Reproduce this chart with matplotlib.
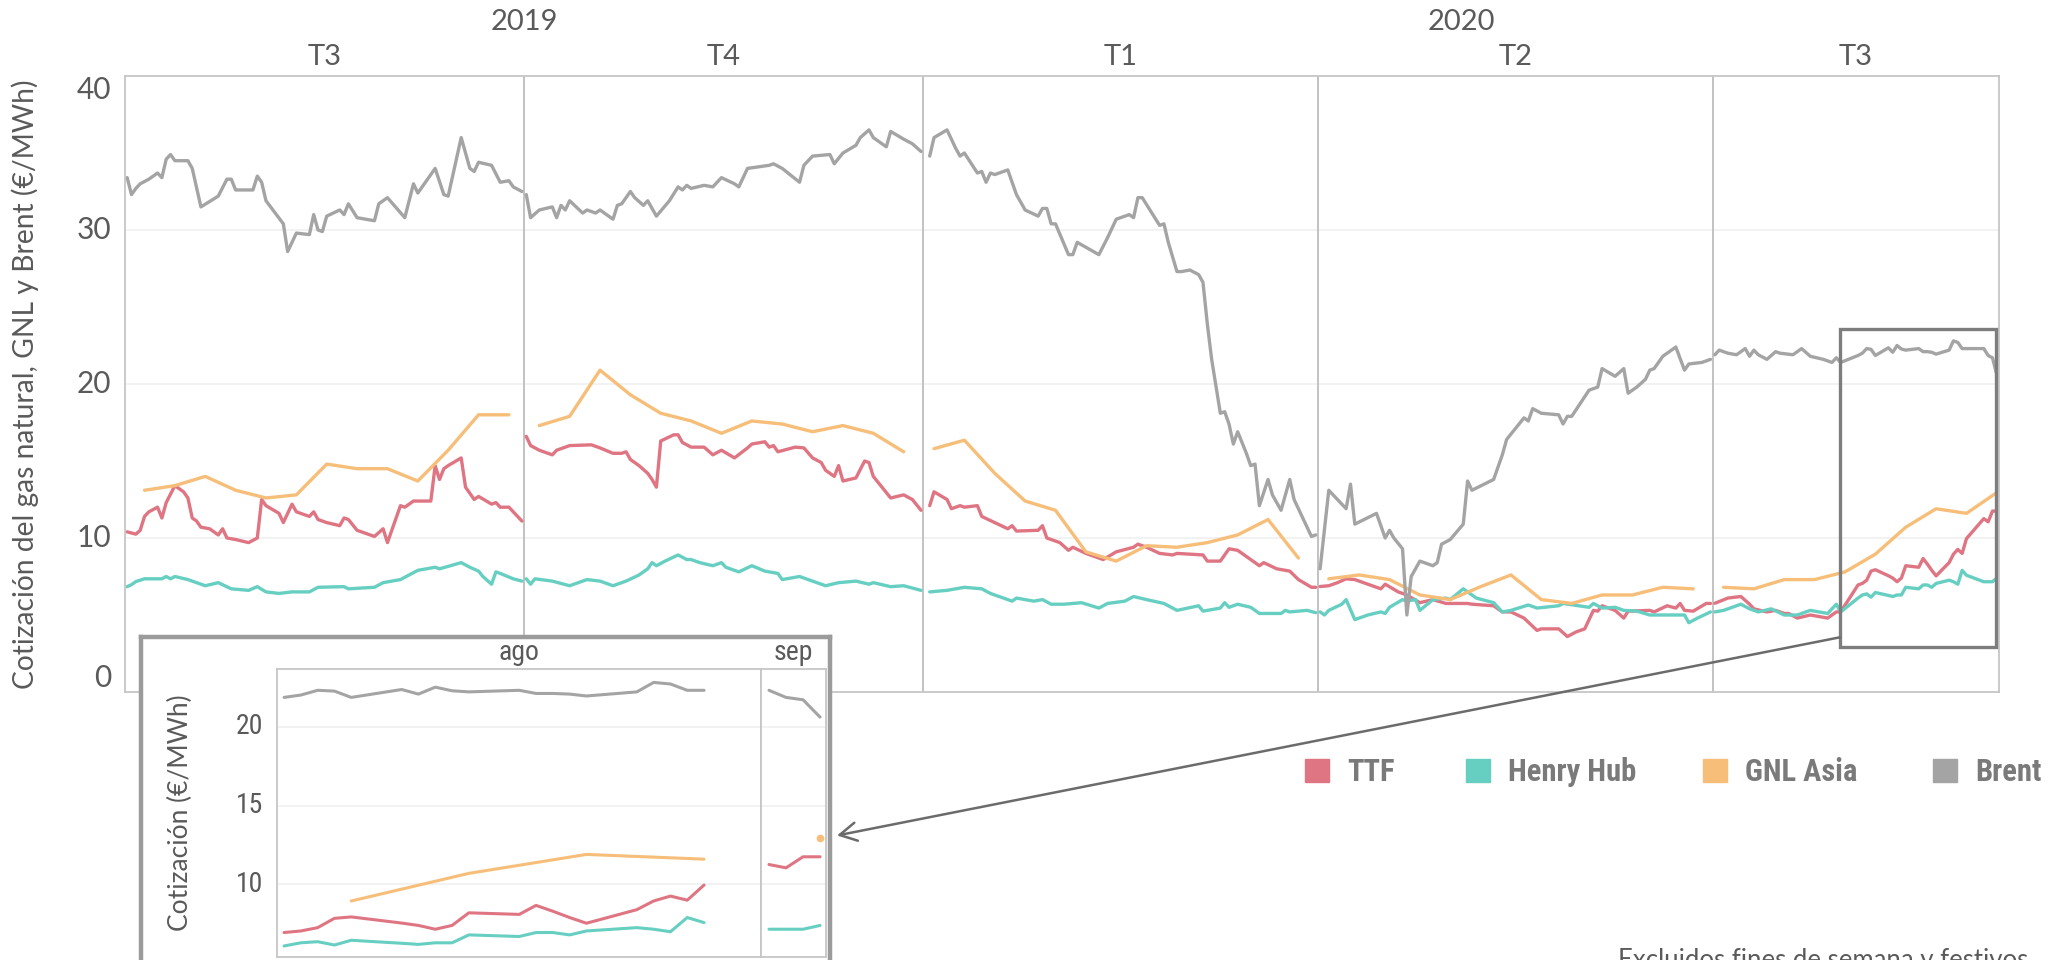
import numpy as np
import matplotlib
matplotlib.use("Agg")
import matplotlib.pyplot as plt
from matplotlib import font_manager
from matplotlib.patches import Rectangle, ConnectionPatch
from matplotlib.transforms import blended_transform_factory

# ---- data: days counted from 2019-07-01, values in EUR/MWh ----
base = np.datetime64("2019-07-01")

brent_d = [0, 1, 2, 3, 5, 7, 8, 9, 10, 11, 14, 15, 17, 21, 23, 24, 25, 29, 30, 31, 32, 36, 37, 39, 42,
           43, 44, 45, 46, 49, 50, 51, 53, 57, 58, 60, 64, 66, 67, 71, 73, 74, 77, 79, 80, 81, 84, 86, 88, 89, 91,
           92, 93, 95, 98, 99, 100, 101, 102, 105, 106, 108, 109, 112, 113, 114, 116, 117, 119, 120, 122,
           125, 127, 128, 129, 130, 133, 135, 137, 140, 141, 143, 148, 149, 151, 155, 156, 158, 162, 163, 165,
           168, 169, 171, 172, 175, 176, 179, 181, 183,
           185, 186, 189, 191, 192, 193, 196, 197, 198, 199, 200, 203, 205, 207, 210, 211, 212, 213, 214, 217,
           218, 219, 224, 226, 228, 231, 232, 233, 234, 238, 239, 240, 242, 243, 245, 247, 248, 249, 250, 252,
           253, 254, 255, 256, 258, 259, 260, 261, 263, 264, 266, 268, 269, 271, 273, 274,
           275, 277, 281, 282, 283, 288, 290, 291, 292, 294, 295, 296, 298, 301, 302, 303, 305, 308, 309, 310,
           315, 317, 318, 322, 323, 324, 326, 330, 331, 332, 333, 337, 339, 340, 343, 345, 346, 348, 350, 351,
           352, 354, 357, 359, 360, 363, 365,
           366, 367, 369, 371, 373, 374, 375, 376, 378, 380, 381, 384, 386, 388, 391, 393, 394, 395,
           399, 400, 401, 402, 403, 406, 407, 408, 409, 410, 413, 414, 415, 416, 417, 420, 421, 422, 423, 424,
           428, 429, 430, 431]
brent_v = [33.4, 32.3, 32.7, 33.0, 33.3, 33.7, 33.4, 34.6, 34.9, 34.5, 34.5, 34.0, 31.5, 32.2, 33.3, 33.3,
           32.6, 32.6, 33.5, 33.1, 31.9, 30.4, 28.6, 29.8, 29.7, 31.0, 30.0, 29.9, 30.9, 31.3, 31.0, 31.7, 30.8,
           30.6, 31.7, 32.1, 30.8, 33.0, 32.4, 34.0, 32.3, 32.2, 36.0, 34.0, 33.8, 34.4, 34.2, 33.1, 33.2, 32.8, 32.5,
           32.3, 30.8, 31.3, 31.5, 30.8, 31.6, 31.3, 31.9, 31.1, 31.3, 31.1, 31.3, 30.7, 31.6, 31.7, 32.5, 32.1,
           31.6, 31.9, 30.9, 31.9, 32.8, 32.6, 32.9, 32.7, 32.9, 32.8, 33.4, 33.0, 32.8, 34.0, 34.2, 34.3, 34.0,
           33.1, 34.2, 34.8, 34.9, 34.3, 35.0, 35.5, 36.0, 36.5, 36.0, 35.4, 36.4, 35.9, 35.6, 35.1,
           34.8, 36.0, 36.5, 35.3, 34.8, 35.0, 33.7, 33.8, 33.1, 33.7, 33.6, 33.9, 32.3, 31.3, 30.9, 31.4, 31.4,
           30.4, 30.4, 28.4, 28.4, 29.2, 28.4, 29.5, 30.7, 31.0, 30.8, 32.1, 32.1, 30.3, 30.4, 29.2, 27.3, 27.3,
           27.4, 27.1, 26.6, 23.9, 21.6, 18.1, 18.2, 17.4, 16.1, 16.9, 15.5, 14.7, 14.8, 12.1, 13.8, 12.8, 11.8,
           13.8, 12.5, 11.3, 10.1, 10.2,
           8.0, 13.1, 11.9, 13.5, 10.9, 11.6, 10.0, 10.5, 10.0, 9.3, 5.0, 7.5, 8.5, 8.2, 8.4, 9.6, 9.9, 10.9,
           13.7, 13.1, 13.8, 15.4, 16.4, 17.8, 17.6, 18.4, 18.1, 18.0, 17.4, 17.9, 17.9, 19.6, 19.8, 21.0, 20.5,
           21.0, 19.4, 19.8, 20.3, 20.9, 21.0, 21.8, 22.4, 20.9, 21.3, 21.4, 21.6,
           21.9, 22.2, 22.0, 21.9, 22.3, 21.8, 22.2, 21.9, 21.6, 22.1, 22.0, 21.9, 22.3, 21.8, 21.6, 21.4, 21.7, 21.4,
           21.85, 22.0, 22.3, 22.25, 21.85, 22.35, 22.06, 22.5, 22.27, 22.2, 22.3, 22.1, 22.1, 22.06, 21.94,
           22.2, 22.8, 22.7, 22.3, 22.3, 22.3, 21.85, 21.7, 20.6]

ttf_d = [0, 2, 3, 4, 5, 7, 8, 9, 11, 13, 14, 15, 16, 17, 19, 21, 22, 23, 25, 28, 30, 31, 32, 35, 36, 38, 39,
         42, 43, 44, 46, 49, 50, 51, 53, 57, 59, 60, 63, 64, 66, 70, 71, 72, 73, 74, 77, 78, 80, 81, 84, 85, 86, 88, 91,
         92, 93, 95, 98, 99, 102, 107, 109, 112, 114, 115, 116, 118, 120, 121, 122, 123, 126, 127, 128, 130, 133,
         135, 137, 140, 143, 144, 147, 148, 149, 150, 154, 156, 158, 160, 161, 163, 164, 165, 168, 170, 171, 172,
         176, 179, 181, 183,
         185, 186, 189, 190, 192, 193, 196, 197, 200, 203, 204, 205, 210, 211, 212, 215, 217, 218, 221, 225, 228,
         232, 233, 235, 238, 241, 242, 248, 249, 252, 254, 256, 259, 261, 262, 265, 268, 270, 273, 274,
         275, 277, 279, 281, 283, 286, 289, 290, 293, 295, 298, 301, 304, 309, 310, 315, 317, 319, 322, 325, 326,
         330, 332, 334, 336, 338, 339, 340, 343, 345, 346, 351, 352, 355, 357, 358, 359, 361, 364, 365,
         366, 369, 372, 374, 375, 378, 380, 382, 383, 385, 388, 390, 392, 394, 395,
         399, 400, 401, 402, 403, 406, 407, 408, 409, 410, 413, 414, 415, 416, 417, 420, 421, 422, 423, 424,
         428, 429, 430, 431]
ttf_v = [10.4, 10.25, 10.5, 11.4, 11.7, 12.0, 11.3, 12.3, 13.4, 13.0, 12.6, 11.3, 11.1, 10.7, 10.6, 10.2, 10.6,
         10.0, 9.9, 9.7, 10.0, 12.5, 12.1, 11.6, 11.0, 12.2, 11.7, 11.4, 11.7, 11.2, 11.0, 10.8, 11.3, 11.2, 10.5,
         10.1, 10.6, 9.7, 12.1, 12.0, 12.4, 12.4, 14.7, 13.8, 14.5, 14.7, 15.2, 13.3, 12.5, 12.7, 12.2, 12.3, 12.0,
         12.0, 11.1,
         16.6, 16.0, 15.7, 15.4, 15.7, 16.0, 16.05, 15.85, 15.5, 15.5, 15.6, 15.1, 14.7, 14.2, 13.8, 13.3, 16.3,
         16.7, 16.7, 16.2, 15.9, 15.9, 15.4, 15.7, 15.2, 15.85, 16.1, 16.25, 15.9, 16.0, 15.6, 15.9, 15.85, 15.2,
         14.9, 14.4, 14.0, 14.7, 13.7, 13.9, 15.0, 14.9, 14.0, 12.6, 12.8, 12.5, 11.8,
         12.1, 13.0, 12.5, 11.9, 12.1, 12.0, 12.1, 11.4, 11.0, 10.6, 10.8, 10.45, 10.5, 10.8, 10.0, 9.7, 9.2, 9.4,
         9.0, 8.6, 9.1, 9.4, 9.6, 9.4, 9.0, 8.9, 9.0, 8.9, 8.5, 8.5, 9.3, 9.2, 8.6, 8.2, 8.4, 8.0, 7.85, 7.3, 6.8, 6.8,
         6.85, 6.9, 7.1, 7.35, 7.3, 7.0, 6.7, 7.0, 6.5, 6.3, 5.8, 6.0, 5.75, 5.75, 5.7, 5.6, 5.2, 5.2, 4.8, 4.0,
         4.1, 4.1, 3.6, 3.9, 4.1, 5.3, 5.25, 5.6, 5.3, 4.8, 5.25, 5.3, 5.2, 5.6, 5.45, 5.75, 5.3, 5.25, 5.75, 5.75,
         5.76, 6.1, 6.2, 5.7, 5.4, 5.2, 5.3, 5.1, 5.1, 4.8, 5.0, 4.9, 4.8, 5.2, 5.2,
         6.95, 7.05, 7.26, 7.85, 7.94, 7.55, 7.4, 7.16, 7.4, 8.2, 8.1, 8.67, 8.3, 7.9, 7.54, 8.4, 8.95, 9.26,
         9.0, 9.96, 11.26, 11.05, 11.75, 11.75]

hh_d = [0, 1, 2, 4, 8, 9, 10, 11, 14, 18, 21, 24, 28, 30, 32, 35, 38, 42, 44, 50, 51, 57, 59, 63, 65, 67, 71,
        72, 77, 79, 81, 82, 84, 85, 86, 89, 91,
        92, 93, 94, 98, 102, 106, 109, 112, 115, 118, 120, 121, 122, 124, 127, 129, 130, 132, 135, 137, 138,
        141, 144, 147, 150, 151, 155, 158, 161, 164, 168, 171, 172, 176, 179, 183,
        185, 189, 193, 197, 199, 200, 204, 205, 209, 211, 213, 216, 220, 224, 226, 230, 232, 235, 239, 242,
        247, 248, 252, 253, 254, 256, 259, 261, 266, 267, 268, 272, 274,
        275, 276, 277, 280, 281, 283, 286, 289, 290, 291, 294, 295, 297, 298, 301, 304, 305, 308, 311, 315,
        317, 319, 323, 325, 330, 331, 337, 338, 340, 343, 345, 348, 351, 357, 359, 360, 362, 365,
        366, 368, 372, 374, 376, 379, 382, 385, 388, 390, 392, 394, 395,
        399, 400, 401, 402, 403, 406, 407, 408, 409, 410, 413, 414, 415, 416, 417, 420, 421, 422, 423, 424,
        428, 429, 430, 431]
hh_v = [6.84, 6.97, 7.17, 7.35, 7.35, 7.5, 7.35, 7.5, 7.3, 6.9, 7.1, 6.7, 6.6, 6.84, 6.5, 6.4, 6.5, 6.5, 6.8,
        6.84, 6.7, 6.8, 7.1, 7.3, 7.6, 7.9, 8.1, 8.0, 8.4, 8.1, 7.85, 7.5, 7.0, 7.8, 7.7, 7.35, 7.2,
        7.35, 7.0, 7.35, 7.2, 6.9, 7.3, 7.2, 6.9, 7.2, 7.6, 8.0, 8.4, 8.2, 8.5, 8.9, 8.6, 8.6, 8.4, 8.2, 8.4,
        8.1, 7.8, 8.2, 7.85, 7.7, 7.3, 7.5, 7.2, 6.9, 7.1, 7.2, 7.0, 7.1, 6.84, 6.9, 6.6,
        6.5, 6.6, 6.8, 6.7, 6.4, 6.3, 5.9, 6.1, 5.9, 6.0, 5.7, 5.7, 5.8, 5.45, 5.75, 5.9, 6.2, 6.0, 5.75, 5.3,
        5.6, 5.25, 5.45, 5.8, 5.5, 5.7, 5.5, 5.1, 5.1, 5.3, 5.2, 5.3, 5.15,
        5.2, 5.0, 5.3, 5.7, 6.0, 4.7, 5.0, 5.2, 5.1, 5.5, 6.0, 5.9, 6.0, 5.3, 6.0, 6.1, 6.0, 6.7, 6.1, 5.8,
        5.2, 5.3, 5.65, 5.45, 5.6, 5.75, 5.5, 5.75, 5.45, 5.5, 5.3, 5.25, 5.0, 5.0, 5.0, 4.5, 4.8, 5.2,
        5.2, 5.3, 5.7, 5.4, 5.2, 5.4, 5.0, 5.0, 5.3, 5.2, 5.1, 5.7, 5.2,
        6.1, 6.3, 6.37, 6.16, 6.46, 6.27, 6.2, 6.3, 6.3, 6.8, 6.7, 6.95, 6.95, 6.8, 7.05, 7.26, 7.16, 7.0,
        7.9, 7.58, 7.16, 7.16, 7.16, 7.4]

# GNL Asia: weekly quotes (Fridays) from 2019-07-05 to 2020-09-04
gnl_dates = np.arange(np.datetime64("2019-07-05"), np.datetime64("2020-09-05"), 7)
gnl_v = [13.1, 13.4, 14.0, 13.1, 12.6, 12.8, 14.8, 14.5, 14.5, 13.7, 15.7, 18.0, 18.0,
         17.3, 17.9, 20.9, 19.3, 18.1, 17.6, 16.8, 17.6, 17.4, 16.9, 17.3, 16.8, 15.6,
         15.8, 16.35, 14.2, 12.4, 11.8, 9.1, 8.5, 9.5, 9.4, 9.7, 10.2, 11.2, 8.7,
         7.35, 7.6, 7.3, 6.3, 6.0, 6.84, 7.6, 6.0, 5.75, 6.3, 6.3, 6.8, 6.7,
         6.8, 6.7, 7.3, 7.3, 7.8, 8.95, 10.7, 11.9, 11.6, 12.95]
gnl_d = list((gnl_dates - base).astype(int))

quarter_starts = ["2019-07-01", "2019-10-01", "2020-01-01", "2020-04-01", "2020-07-01"]
quarter_labels = ["T3", "T4", "T1", "T2", "T3"]
year_labels = ["2019", "2020"]
month_starts = ["2020-08-01", "2020-09-01"]
month_labels = ["ago", "sep"]

series_names = ["TTF", "Henry Hub", "GNL Asia", "Brent"]
series_colors = ["#df7582", "#66cfc2", "#f6be78", "#a4a4a4"]
series_data = [(ttf_d, ttf_v), (hh_d, hh_v), (gnl_d, gnl_v), (brent_d, brent_v)]


def pick_font(candidates):
    for name in candidates:
        try:
            font_manager.findfont(name, fallback_to_default=False)
            return name
        except ValueError:
            pass
    return "DejaVu Sans"


main_font = pick_font(["Lato", "Open Sans", "DejaVu Sans"])
narrow_font = pick_font(["Liberation Sans Narrow", "Roboto Condensed", "Liberation Sans"])
plt.rcParams["font.family"] = [main_font, "DejaVu Sans"]

TXT = "#5a5a5a"
W, H = 2061, 960


def draw_series(ax, days, vals, color, starts, lw=2.4):
    days = np.asarray(days, dtype=float)
    vals = np.asarray(vals, dtype=float)
    grp = np.searchsorted(starts, days, side="right") - 1
    for g in np.unique(grp):
        m = grp == g
        if m.sum() == 1:
            ax.plot(days[m], vals[m], "o", color=color, ms=5.5, mec="none")
        else:
            ax.plot(days[m], vals[m], color=color, lw=lw, solid_joinstyle="round",
                    solid_capstyle="round")


q_start = (np.array(quarter_starts, dtype="datetime64[D]") - base).astype(int)
m_start = (np.array(month_starts, dtype="datetime64[D]") - base).astype(int)
x_end = 431.5

fig = plt.figure(figsize=(W / 100, H / 100), dpi=100)

# ---- main chart ----
ax = fig.add_axes([125 / W, (H - 692) / H, (1999 - 125) / W, (692 - 76) / H])
ax.set_xlim(-0.5, x_end)
ax.set_ylim(0, 40)
for s in ax.spines.values():
    s.set_color("#c6c6c6")
    s.set_linewidth(1.3)
ax.set_xticks([])
ax.set_yticks([])
for y in [10, 20, 30]:
    ax.axhline(y, color="#efefef", lw=1.1, zorder=0)
for s in q_start[1:]:
    ax.axvline(s - 0.5, color="#bdbdbd", lw=1.3, zorder=1)

for (d, v), c in zip(series_data, series_colors):
    draw_series(ax, d, v, c, q_start)

ytr = blended_transform_factory(ax.transAxes, ax.transData)
for y in [0, 10, 20, 30, 40]:
    va = "top" if y == 40 else ("bottom" if y == 0 else "center")
    ax.text(-14 / 1874, y, str(y), transform=ytr, ha="right", va=va, fontsize=21.5, color=TXT)
ax.set_ylabel("Cotización del gas natural, GNL y Brent (€/MWh)", fontsize=20.3, color=TXT)
ax.yaxis.set_label_coords(-86 / 1874, 0.5)

xtr = blended_transform_factory(ax.transData, ax.transAxes)
q_edges = list(q_start - 0.5) + [x_end]
for i, lab in enumerate(quarter_labels):
    ax.text((q_edges[i] + q_edges[i + 1]) / 2, 1 + 19 / 616, lab, transform=xtr,
            ha="center", va="center", fontsize=21, color=TXT)
ax.text((q_edges[0] + q_edges[2]) / 2, 1 + 54 / 616, year_labels[0], transform=xtr,
        ha="center", va="center", fontsize=21, color=TXT)
ax.text((q_edges[2] + q_edges[5]) / 2, 1 + 54 / 616, year_labels[1], transform=xtr,
        ha="center", va="center", fontsize=21, color=TXT)

# zoom frame around Aug-Sep 2020
ax.add_patch(Rectangle((394.8, 2.9), 36.0, 20.65, fill=False, ec="#7d7d7d", lw=2.4, zorder=6,
                       clip_on=False))

# ---- inset ----
box = fig.add_axes([141 / W, (H - 1010) / H, (830 - 141) / W, (1010 - 637) / H])
box.set_xticks([])
box.set_yticks([])
for s in box.spines.values():
    s.set_color("#9b9b9b")
    s.set_linewidth(3.2)

ib, it = 957, 669
ax_aug = fig.add_axes([277 / W, (H - ib) / H, (761 - 277) / W, (ib - it) / H])
ax_sep = fig.add_axes([761 / W, (H - ib) / H, (826 - 761) / W, (ib - it) / H])
ax_aug.set_xlim(398.58, 427.39)
ax_sep.set_xlim(427.53, 431.35)
for a, lab in zip([ax_aug, ax_sep], month_labels):
    a.set_ylim(5.4, 23.65)
    a.set_xticks([])
    a.set_yticks([])
    a.set_facecolor("white")
    for s in a.spines.values():
        s.set_color("#c6c6c6")
        s.set_linewidth(1.3)
    for y in [10, 15, 20]:
        a.axhline(y, color="#efefef", lw=1.1, zorder=0)
    a.text(0.5, 1 + 17 / 288, lab, transform=a.transAxes, ha="center", va="center",
           fontsize=20, color=TXT, family=[narrow_font, "DejaVu Sans"])
    for (d, v), c in zip(series_data, series_colors):
        d = np.asarray(d)
        v = np.asarray(v)
        m = (d >= m_start[0])
        draw_series(a, d[m], v[m], c, m_start, lw=2.2)

itr = blended_transform_factory(ax_aug.transAxes, ax_aug.transData)
for y in [10, 15, 20]:
    ax_aug.text(-14 / 484, y, str(y), transform=itr, ha="right", va="center", fontsize=20,
                color=TXT, family=[narrow_font, "DejaVu Sans"])
ax_aug.set_ylabel("Cotización (€/MWh)", fontsize=19, color=TXT)
ax_aug.yaxis.set_label_coords(-84 / 484, 0.5)

# connector from the zoom frame to the inset
con = ConnectionPatch(xyA=(394.8, 3.55), coordsA=ax.transData,
                      xyB=(1.17, 13.1), coordsB=blended_transform_factory(ax_sep.transAxes, ax_sep.transData),
                      arrowstyle="->,head_length=0.55,head_width=0.3", mutation_scale=22,
                      color="#6b6b6b", lw=1.8, shrinkA=0, shrinkB=0)
fig.add_artist(con)

# ---- legend ----
leg_sq_x = [1305, 1466, 1703, 1933]
for name, c, x in zip(series_names, series_colors, leg_sq_x):
    fig.patches.append(Rectangle((x / W, (H - 782) / H), 24 / W, 23 / H, color=c,
                                 transform=fig.transFigure, figure=fig))
    fig.text((x + 42) / W, (H - 772) / H, name, ha="left", va="center", fontsize=22,
             fontweight="bold", color="#7a7a7a", family=[narrow_font, "DejaVu Sans"])

fig.text(1618 / W, (H - 968) / H, "Excluidos fines de semana y festivos", ha="left",
         va="baseline", fontsize=18.5, color=TXT)

fig.savefig("out.png", dpi=100)
